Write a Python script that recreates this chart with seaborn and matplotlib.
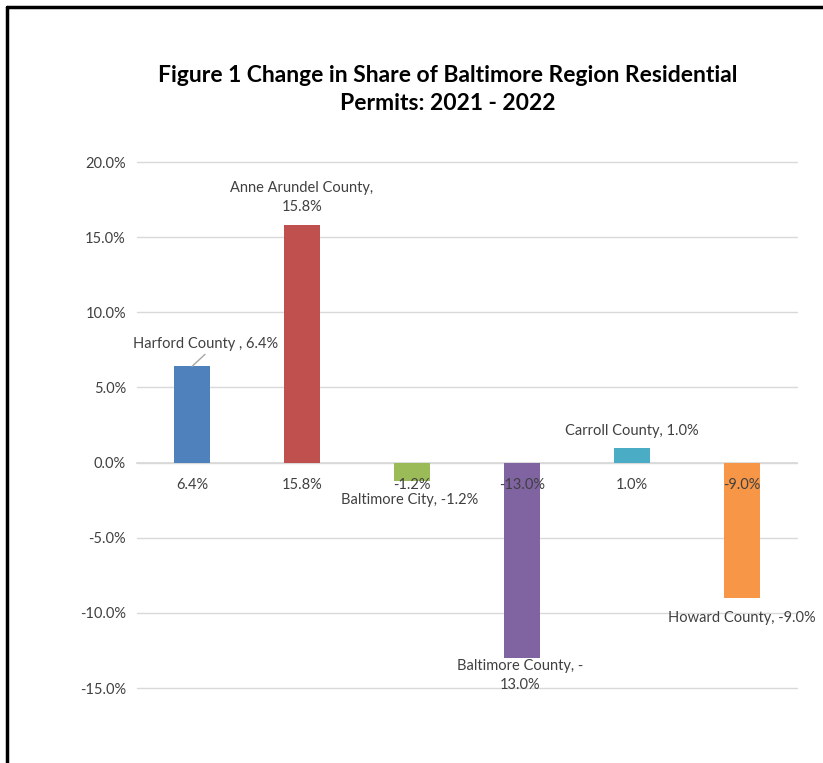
import matplotlib
matplotlib.use("Agg")
import matplotlib.pyplot as plt
import seaborn as sns
import pandas as pd
from matplotlib.lines import Line2D

counties = ["Harford County ", "Anne Arundel County", "Baltimore City", "Baltimore County",
            "Carroll County", "Howard County"]
values = [6.4, 15.8, -1.2, -13.0, 1.0, -9.0]
tick_labels = ["6.4%", "15.8%", "-1.2%", "-13.0%", "1.0%", "-9.0%"]
colors = ["#4F81BD", "#C0504D", "#9BBB59", "#8064A2", "#4BACC6", "#F79646"]
title = "Figure 1 Change in Share of Baltimore Region Residential\nPermits: 2021 - 2022"

sns.set_theme(style="white")
plt.rcParams["font.family"] = ["Lato", "DejaVu Sans"]

df = pd.DataFrame({"county": counties, "value": values})

fig = plt.figure(figsize=(8.23, 7.63), dpi=100)
ax = fig.add_axes([137/823, 1-688/763, 660/823, (688-162)/763])

sns.barplot(data=df, x="county", y="value", hue="county", palette=colors,
            width=0.32, legend=False, ax=ax, saturation=1, linewidth=0)

ax.set_ylim(-15, 20)
ax.set_xlim(-0.5, 5.5)
ax.set_yticks([-15, -10, -5, 0, 5, 10, 15, 20])
ax.set_yticklabels([f"{v:.1f}%" for v in [-15, -10, -5, 0, 5, 10, 15, 20]],
                   fontsize=10.5, color="#404040")
ax.yaxis.grid(True, color="#D9D9D9", linewidth=1)
for gl in ax.yaxis.get_gridlines():
    gl.set_clip_on(False)
ax.set_axisbelow(True)
ax.xaxis.set_zorder(5)
for s in ["left", "right", "top"]:
    ax.spines[s].set_visible(False)
ax.spines["bottom"].set_position(("data", 0))
ax.spines["bottom"].set_color("#D9D9D9")
ax.spines["bottom"].set_zorder(0.6)
ax.set_xticks(range(len(counties)))
ax.set_xticklabels(tick_labels, fontsize=10.5, color="#404040")
ax.tick_params(axis="both", length=0, pad=8)
ax.tick_params(axis="x", pad=11)
ax.set_xlabel("")
ax.set_ylabel("")

# data labels
lab_kw = dict(fontsize=10.5, color="#404040", ha="center", va="center", zorder=6)
ax.text(0.127, 7.87, f"{counties[0]}, {tick_labels[0]}", **lab_kw)
ax.plot([0.118, 0.0], [7.2, values[0]], color="#A6A6A6", linewidth=1)
ax.text(1.0, 17.63, f"{counties[1]},\n{tick_labels[1]}", linespacing=1.4, **lab_kw)
ax.text(1.98, -2.47, f"{counties[2]}, {tick_labels[2]}", **lab_kw)
ax.text(2.98, -14.17, f"{counties[3]}, -\n13.0%", linespacing=1.4, **lab_kw)
ax.text(4.0, 2.07, f"{counties[4]}, {tick_labels[4]}", **lab_kw)
ax.text(5.0, -10.33, f"{counties[5]}, {tick_labels[5]}", **lab_kw)

fig.text(448/823, 1-89.5/763, title, ha="center", va="center", fontsize=16.5,
         fontweight="bold", color="black", linespacing=1.45)

# frame lines
fig.add_artist(Line2D([6.5/823, 1], [1-6.5/763, 1-6.5/763], color="black", linewidth=2.5,
                      transform=fig.transFigure))
fig.add_artist(Line2D([6.5/823, 6.5/823], [0, 1-6.5/763], color="black", linewidth=2.5,
                      transform=fig.transFigure))

fig.savefig("out.png", dpi=100)
